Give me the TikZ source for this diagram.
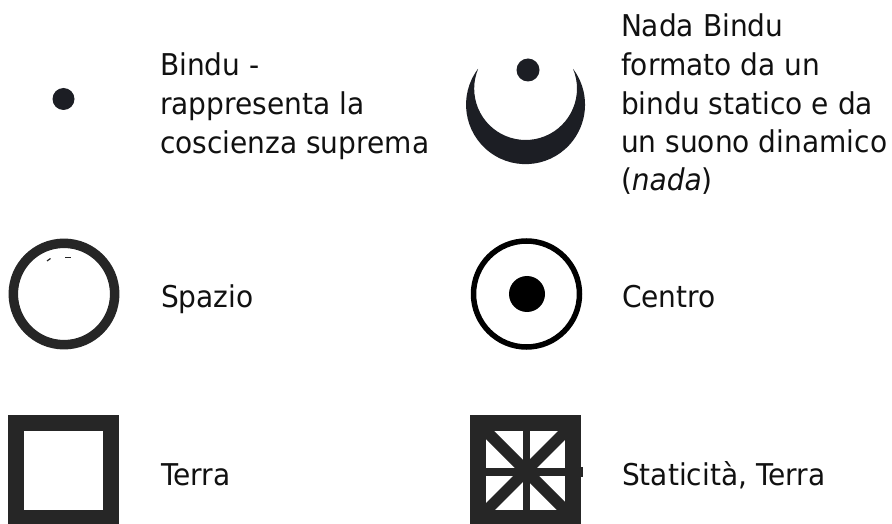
\documentclass[tikz,border=0pt]{standalone}
\usepackage{fontspec}
\setmainfont{DejaVu Sans}[FakeStretch=0.935]
\definecolor{ink}{HTML}{262626}
\definecolor{moon}{HTML}{1C1E24}
\definecolor{txt}{HTML}{111111}
\tikzset{
  lbl/.style={anchor=base west,inner sep=0pt,outer sep=0pt,text=txt,font=\fontsize{30}{30}\selectfont},
}
\begin{document}
\begin{tikzpicture}[x=1pt,y=1pt]
\useasboundingbox (0,0) rectangle (892,523);
\fill[white] (0,0) rectangle (892,523);
% bindu
\fill[moon] (63.5,424) circle (11);
% nada bindu
\fill[moon] (528,453) circle (11.5);
\fill[moon] (477.9,454) arc (143.2:396.8:59.5) -- (573.1,454) arc (22.4:-202.4:51.4) -- cycle;
% spazio
\draw[ink,line width=9.5] (64,229) circle (50.7);
\draw[ink,line width=1.2] (47,262) -- (50.5,264.5);
\draw[ink,line width=1.2] (65,265.7) -- (71,265.7);
% centro
\draw[black,line width=5.5] (526.5,229) circle (53);
\fill[black] (527,229) circle (18);
% terra
\fill[ink] (8,-5) rectangle (119,108);
\fill[white] (24,13) rectangle (103,92);
% staticita
\fill[ink] (470,-5) rectangle (581,108);
\fill[ink] (581,46) rectangle (583,56);
\fill[white] (486,13) rectangle (565,92);
\begin{scope}
\clip (486,13) rectangle (565,92);
\draw[ink,line width=7.5] (526.5,0) -- (526.5,100);
\draw[ink,line width=8] (480,51) -- (570,51);
\draw[ink,line width=11.5] (476,102) -- (575,3);
\draw[ink,line width=11] (476,2) -- (575,101);
\end{scope}
% labels
\node[lbl] (a1) at (160,447) {Bindu -};
\node[lbl] (a2) at (160,408) {rappresenta la};
\node[lbl] (a3) at (160,369) {coscienza suprema};
\node[lbl] (b1) at (621,486) {Nada Bindu};
\node[lbl] (b2) at (621,447) {formato da un};
\node[lbl] (b3) at (621,408) {bindu statico e da};
\node[lbl] (b4) at (621,370) {un suono dinamico};
\node[lbl] (b5) at (621,332) {(\textit{nada})};
\node[lbl] (c1) at (161,215) {Spazio};
\node[lbl] (c2) at (622,215) {Centro};
\node[lbl] (d1) at (161,38) {Terra};
\node[lbl] (d2) at (622,38) {Staticità, Terra};
\end{tikzpicture}
\end{document}
